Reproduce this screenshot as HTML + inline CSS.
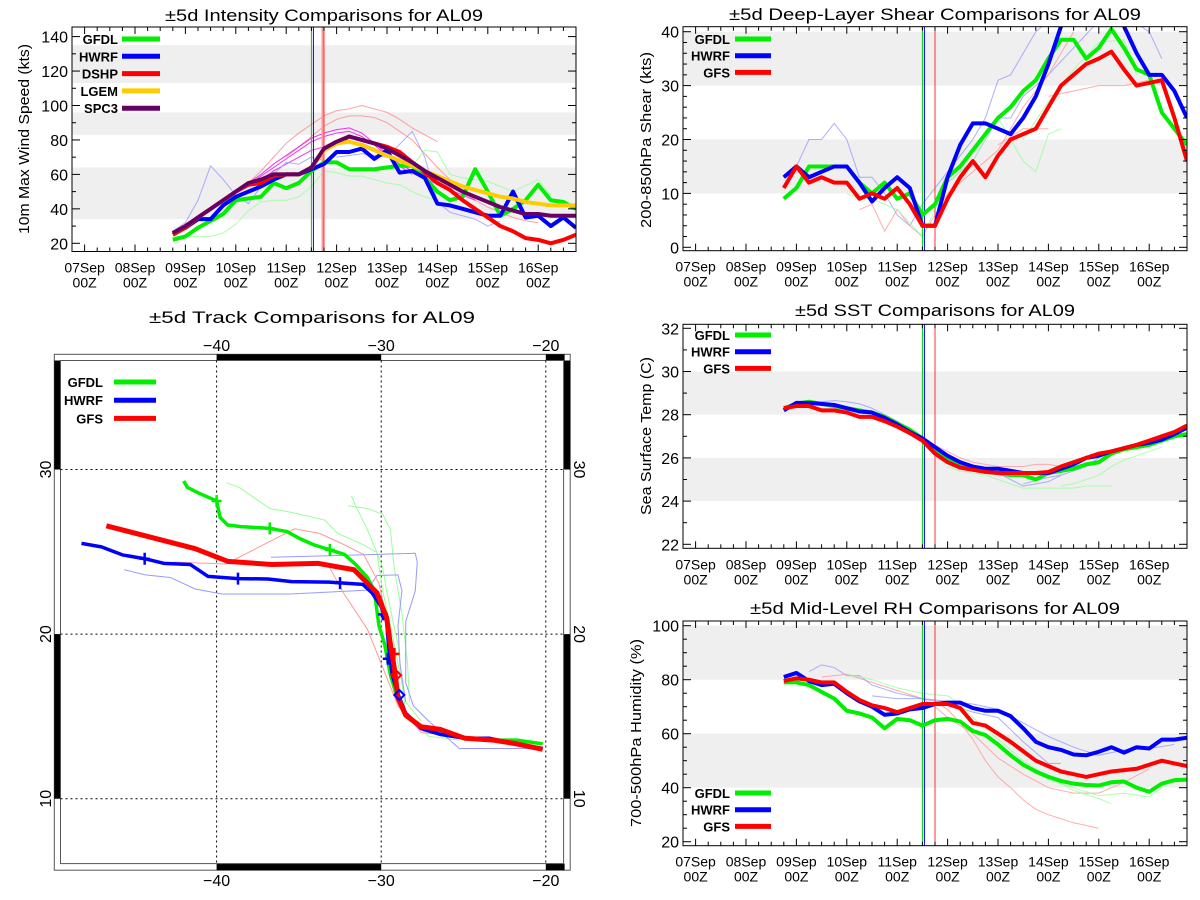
<!DOCTYPE html>
<html><head><meta charset="utf-8"><style>
html,body{margin:0;padding:0;background:#fff;}
svg{display:block;font-family:"Liberation Sans",sans-serif;}
</style></head><body>
<svg id="c" width="1200" height="900" xmlns="http://www.w3.org/2000/svg"></svg>
<script>
// ---------- DATA ----------
const dayLabels = ["07Sep","08Sep","09Sep","10Sep","11Sep","12Sep","13Sep","14Sep","15Sep","16Sep"];
const times = [1.75,2,2.25,2.5,2.75,3,3.25,3.5,3.75,4,4.25,4.5,4.75,5,5.25,5.5,5.75,6,6.25,6.5,6.75,7,7.25,7.5,7.75,8,8.25,8.5,8.75,9,9.25,9.5,9.75];
const vlineDays = [4.5, 4.54, 4.75];

// Intensity (kts)
const intGFDL = [22,24,29,33,37,45,46,47,55,52,55,62,67,67,63,63,63,64,65,65,58,50,45,47,63,50,36,40,45,54,45,44,40];
const intHWRF = [26,29,34,34,42,47,50,53,57,60,60,63,66,73,73,75,69,74,61,62,58,43,42,40,38,36,36,50,35,36,30,35,29];
const intDSHP = [25,29,35,40,45,50,54,55,59,60,60,64,74,78,82,80,78,76,73,67,61,55,51,45,40,35,30,27,23,22,20,22,25];
const intLGEM = [26,30,35,40,45,50,55,57,60,60,60,64,74,78,79,77,74,71,68,65,62,59,56,53,51,49,47,46,44,43,42,42,42];
const intSPC3 = [26,30,35,40,45,50,55,57,60,60,60,64,75,79,82,80,78,75,71,67,62,58,54,50,47,44,41,39,37,37,36,36,36];
const intThin = [
 {c:"#f88",d:[[3.25,55],[3.5,62],[3.75,70],[4,78],[4.25,84],[4.5,89],[4.75,94],[5,97],[5.25,98],[5.5,100],[5.75,98],[6,96],[6.25,92],[6.5,87],[6.75,83],[7,79]]},
 {c:"#f88",d:[[4,70],[4.25,76],[4.5,82],[4.75,88],[5,92],[5.25,94],[5.5,94],[5.75,93],[6,90],[6.25,85],[6.5,80],[6.75,72],[7,64],[7.25,57],[7.5,50],[7.75,45],[8,41],[8.25,38],[8.5,35],[8.75,33],[9,32]]},
 {c:"#e0e",d:[[3.25,55],[3.5,60],[3.75,66],[4,71],[4.25,76],[4.5,81],[4.75,84],[5,86],[5.25,87],[5.5,84],[5.75,78],[6,72],[6.25,66],[6.5,62],[6.75,58],[7,54],[7.25,51],[7.5,48],[7.75,45]]},
 {c:"#e0e",d:[[3.25,54],[3.5,59],[3.75,64],[4,69],[4.25,74],[4.5,79],[4.75,82],[5,84],[5.25,85],[5.5,82],[5.75,77],[6,71],[6.25,65],[6.5,60]]},
 {c:"#e0e",d:[[3.5,57],[3.75,62],[4,66],[4.25,70],[4.5,74],[4.75,76],[5,78],[5.25,79],[5.5,78],[5.75,75],[6,70]]},
 {c:"#99f",d:[[1.75,27],[2,32],[2.25,45],[2.5,65],[2.75,57],[3,48],[3.25,43],[3.5,53],[3.75,60],[4,67],[4.25,66],[4.5,70],[4.75,68]]},
 {c:"#99f",d:[[5,70],[5.5,72],[6,70],[6.5,85],[6.75,70],[7,44],[7.25,38],[7.5,36],[7.75,34],[8,30],[8.25,33]]},
 {c:"#9f9",d:[[1.75,24],[2,24],[2.25,24],[2.5,24],[2.75,26],[3,31],[3.25,39],[3.5,44],[3.75,45],[4,45],[4.25,47],[4.5,53],[4.75,62],[5,61],[5.25,59],[5.5,59],[5.75,57],[6,55],[6.25,54],[6.5,50],[6.75,47],[7,45]]},
 {c:"#9f9",d:[[6.5,65],[6.75,74],[7,73],[7.25,60],[7.5,58],[7.75,57],[8,56],[8.5,50],[9,57],[9.25,48]]}
];

// Shear (kts)
const shrGFDL = [9,11,15,15,15,15,12,10,12,9,10,6,8,13,15,18,21,24,26,29,31,35,38.5,38.5,35,37,40.5,37,33,32,25,22,19];
const shrHWRF = [13,15,13,14,15,15,12,8.5,11,13,11,4,4,13,19,23,23,22,21,24,28,34,41,45,46,46,44,41,36,32,32,29,24];
const shrGFS  = [11,15,12,13,12,12,9,10,9,11,8,4,4,9,13,16,13,17,20,21,22,26,30,32,34,35,36.3,33,30,30.5,31,24,16];
const shrThin = [
 {c:"#99f",d:[[2,15],[2.25,20],[2.5,20],[2.75,23],[3,20],[3.25,13],[3.5,13],[3.75,10],[4,6],[4.25,4],[4.5,8],[4.75,11],[5,14],[5.25,17],[5.5,20],[5.75,24],[6,31],[6.25,32],[6.5,36],[6.75,40],[7,42]]},
 {c:"#99f",d:[[5,12],[5.5,16],[6,24],[6.25,24],[6.5,28],[7,32],[8,42],[8.5,43],[9,40],[9.25,35]]},
 {c:"#f99",d:[[3.25,7],[3.5,8],[3.75,3],[4,7],[4.25,4],[4.5,2],[4.75,6],[5,10],[5.5,14],[6,18],[6.5,26],[7,32],[7.5,40]]},
 {c:"#f99",d:[[6,19],[6.5,22],[7,22]]},
 {c:"#f99",d:[[7,28],[7.5,29],[8,30],[8.5,30],[9,31]]},
 {c:"#9f9",d:[[3,10],[3.25,9],[3.5,9],[3.75,8],[4,7],[4.5,2],[5,12],[5.5,16],[6,24],[6.5,16],[6.75,14],[7,21],[7.25,22]]},
 {c:"#9f9",d:[[6.5,20],[7,27],[7.5,33],[8,38],[8.5,38.5],[8.75,32]]}
];

// SST (C)
const sstGFDL = [28.3,28.5,28.6,28.5,28.4,28.3,28.2,28.1,27.9,27.6,27.3,26.9,26.4,25.9,25.6,25.5,25.35,25.3,25.2,25.2,25.0,25.3,25.4,25.5,25.7,25.8,26.2,26.4,26.5,26.6,26.8,27.0,27.1];
const sstHWRF = [28.2,28.55,28.55,28.5,28.45,28.3,28.15,28.1,27.85,27.55,27.2,26.9,26.5,26.1,25.8,25.6,25.5,25.5,25.4,25.3,25.3,25.3,25.5,25.7,26.0,26.1,26.3,26.45,26.6,26.7,26.85,27.1,27.4];
const sstGFS  = [28.3,28.4,28.4,28.2,28.2,28.1,27.9,27.9,27.7,27.45,27.15,26.8,26.2,25.8,25.55,25.45,25.35,25.3,25.3,25.3,25.3,25.35,25.6,25.8,26.0,26.2,26.3,26.45,26.6,26.8,27.0,27.2,27.5];
const sstThin = [
 {c:"#99f",d:[[2.5,28.6],[2.75,28.65],[3,28.6],[3.25,28.5],[3.5,28.3],[3.75,28.0],[4,27.7],[4.25,27.3],[4.5,26.9],[4.75,26.5],[5,26.1],[5.25,25.8],[5.5,25.6],[5.75,25.4],[6,25.3],[6.25,25.0],[6.5,24.7],[6.75,24.8],[7,24.9],[7.25,25.2],[7.5,25.4],[7.75,25.6],[8,26.0]]},
 {c:"#99f",d:[[6.5,24.8],[7,25.1],[7.25,25.2]]},
 {c:"#9f9",d:[[5,25.6],[5.25,25.4],[5.5,25.3],[5.75,25.2],[6,25.0],[6.25,24.8],[6.5,24.6],[6.75,24.6],[7,24.6],[7.25,24.6],[7.5,24.6],[7.75,24.7],[8,24.7],[8.25,24.7]]},
 {c:"#9f9",d:[[7.25,24.7],[7.5,24.8],[7.75,25.0],[8,25.2],[8.25,25.6],[8.5,25.9],[8.75,26.1],[9,26.3],[9.25,26.5]]},
 {c:"#f99",d:[[4.75,26.6],[5,26.3],[5.25,26.0],[5.5,25.8],[5.75,25.7],[6,25.6],[6.25,25.6],[6.5,25.6],[6.75,25.7],[7,25.7],[7.25,25.6]]}
];

// Mid-level RH (%)
const rhGFDL = [79,79,78,75.5,73,68.5,67.5,66,62,65.5,65,63,65,65.5,64.5,61,59.5,56,52,48.5,46,44,42.5,41.5,41,40.8,42,42.3,40,38.5,41.5,42.8,43];
const rhHWRF = [81,82.5,79.5,78,78.5,75,72,70,67,67.5,69,69.5,71,71.5,71.5,69.5,68.5,68.5,66.5,62,57,55,54,52.3,52,53.3,55,53,55,54.5,57.8,57.8,58.5];
const rhGFS  = [79.5,80.5,80,79,79,75.5,72.5,70.5,69.5,68,69.5,71,71,71,69.5,64,63,60,57,53.5,50,48,46,45,44,45,46,46.5,47,48.5,50,49,48];
const rhThin = [
 {c:"#f99",d:[[4.75,72],[5,69],[5.25,64],[5.5,58],[5.75,50],[6,44],[6.25,40],[6.5,35.5],[6.75,32],[7,30],[7.25,28.5],[7.5,27],[7.75,26],[8,25]]},
 {c:"#f99",d:[[2.5,81],[3,82],[3.5,79],[4,76],[4.5,73],[4.75,70],[5,66],[5.5,60],[6,51],[6.5,45],[7,40],[7.5,38],[8,38],[8.5,42],[9,47]]},
 {c:"#99f",d:[[2.25,83],[2.5,85.5],[2.75,84.5],[3,81.5],[3.25,81.5],[3.5,78],[4,75],[4.5,73],[5,72],[5.5,71],[6,69],[6.5,64],[7,59],[7.5,55],[8,52],[8.5,54],[9,54.5],[9.5,56]]},
 {c:"#99f",d:[[3.5,74],[4,73],[4.5,73],[5,71],[5.5,68],[6,66],[6.5,57],[7,49],[7.25,49]]},
 {c:"#9f9",d:[[3,82],[3.5,80],[4,77],[4.5,75],[5,74],[5.25,71],[5.5,66],[6,58],[6.5,50],[7,44],[7.5,39],[8,36],[8.25,34]]},
 {c:"#9f9",d:[[6,55],[6.5,48],[7,43],[7.5,40],[8,37],[8.5,38],[9,36.5],[9.25,40]]}
];

// Track (lon, lat)
const trkGFDLlon = [-42.0,-41.77,-41.07,-40.0,-39.79,-39.33,-38.51,-36.77,-35.72,-35.02,-34.09,-33.12,-32.23,-31.53,-30.84,-30.42,-30.14,-29.79,-29.44,-29.09,-28.51,-27.58,-26.42,-25.02,-23.40,-21.77,-20.19];
const trkGFDLlat = [29.30,28.91,28.56,28.09,27.09,26.63,26.53,26.42,26.23,25.84,25.42,25.12,24.84,24.21,23.44,22.63,20.53,19.37,17.51,16.35,15.19,14.37,14.14,13.67,13.56,13.56,13.33];
const trkHWRFlon = [-48.21,-47.0,-45.72,-44.37,-43.21,-41.60,-40.53,-38.70,-36.88,-35.44,-33.16,-31.12,-30.56,-30.02,-29.67,-29.56,-29.33,-28.98,-28.51,-27.58,-26.42,-24.91,-23.40,-22.0,-20.19];
const trkHWRFlat = [25.51,25.30,24.81,24.58,24.30,24.23,23.51,23.37,23.35,23.19,23.16,23.02,22.51,21.70,20.77,19.37,17.51,16.35,15.19,14.26,13.91,13.67,13.67,13.37,13.05];
const trkGFSlon = [-46.70,-41.30,-39.33,-36.65,-33.86,-31.65,-30.26,-29.67,-29.44,-29.21,-29.09,-28.98,-28.51,-27.58,-26.42,-24.91,-23.16,-21.77,-20.19];
const trkGFSlat = [26.58,25.19,24.42,24.23,24.30,23.91,22.51,21.0,19.37,17.98,17.05,16.12,15.07,14.37,14.21,13.67,13.56,13.33,13.0];
const trkGFDLticks = [[-40.0,28.09],[-36.77,26.42],[-33.12,25.12]];
const trkHWRFticks = [[-44.37,24.58],[-38.70,23.37],[-32.5,23.1],[-29.9,21.2],[-29.6,18.5]];
const trkGFSticks = [[-29.2,18.8]];
const trkThin = [
 {c:"#9f9",d:[[-39.40,29.19],[-38.63,28.91],[-36.77,27.63],[-35.49,27.40],[-33.44,26.93],[-32.65,26.12],[-31.07,25.42],[-30.26,24.95],[-29.91,24.02],[-29.67,22.63],[-29.33,21.0],[-28.98,19.37],[-28.74,17.05],[-28.51,15.19],[-27.12,13.79],[-25.26,13.56]]},
 {c:"#9f9",d:[[-31.81,28.40],[-31.53,27.74],[-30.84,26.35],[-30.26,24.95],[-29.91,22.63],[-29.44,20.53],[-28.98,18.21],[-28.51,15.88],[-27.58,14.72]]},
 {c:"#9f9",d:[[-32.0,27.79],[-30.84,27.63],[-29.91,27.28],[-29.44,26.35],[-29.21,24.02],[-28.74,21.23],[-28.40,18.21],[-28.28,15.88]]},
 {c:"#99f",d:[[-36.70,24.67],[-32.93,24.77],[-27.93,24.91],[-27.81,24.37],[-27.93,22.63],[-28.51,20.77],[-28.51,17.05],[-28.05,15.65],[-27.12,14.72],[-25.26,13.05],[-20.60,13.05]]},
 {c:"#99f",d:[[-45.60,23.91],[-44.33,23.60],[-42.81,23.44],[-41.30,22.74],[-39.67,22.44],[-35.49,22.44],[-30.84,22.67],[-30.26,23.56],[-28.98,23.60],[-28.74,22.63],[-28.98,20.53],[-28.86,18.21],[-28.51,15.88]]},
 {c:"#f99",d:[[-42.58,24.37],[-39.44,24.26],[-35.26,26.40],[-33.74,26.12],[-32.23,25.42],[-31.07,24.84],[-30.14,23.09],[-29.67,21.0],[-29.21,17.05]]},
 {c:"#f99",d:[[-33.12,24.02],[-32.23,22.40],[-30.84,20.30],[-29.91,17.98],[-28.98,15.65],[-27.58,14.02],[-25.26,13.79]]}
];

// ---------- DRAWING ----------
const NS = 'http://www.w3.org/2000/svg';
const svg = document.getElementById('c');
function mk(tag, parent){ const e = document.createElementNS(NS, tag); (parent||svg).appendChild(e); return e; }
function attrs(e, o){ for (const k in o) e.setAttribute(k, o[k]); return e; }
function txt(parent, s, x, y, size, anchor){ const t = mk('text', parent); attrs(t,{x:x,y:y,'font-size':size,'text-anchor':anchor||'start',fill:'#000'}); t.textContent = s; return t; }
const dayW = 50.4;
const G = {GFDL:'#00ee00',HWRF:'#0000ff',DSHP:'#ff0000',GFS:'#ff0000',LGEM:'#ffcc00',SPC3:'#660066'};
let clipN = 0;

function timePanel(p){
  const g = mk('g');
  
  
  const xr = p.x0 + 10*dayW;
  const X = d => p.x0 + (d+0.25)*dayW;
  const Y = v => p.y0 - (v - p.v0)*p.ppu;
  p.bands.forEach(b => {
    const r = mk('rect', g);
    
    
    const y1 = Math.max(Y(b[1]), p.top), y2 = Math.min(Y(b[0]), p.bot);
    attrs(r,{x:p.x0,y:y1,width:xr-p.x0,height:y2-y1,fill:'#efefef'});
  });
  const cid = 'clip'+(clipN++);
  const cp = mk('clipPath', g); cp.setAttribute('id', cid);
  attrs(mk('rect', cp), {x:p.x0,y:p.top,width:xr-p.x0,height:p.bot-p.top});
  const data = mk('g', g); data.setAttribute('clip-path','url(#'+cid+')');
  
  
  p.thin.forEach(s => {
    const pl = mk('polyline', data);
    
    
    attrs(pl,{points:s.d.map(q => X(q[0])+','+Y(q[1])).join(' '),fill:'none',stroke:s.c,'stroke-width':1,'stroke-opacity':0.8});
  });
  if (p.pink){ attrs(mk('line',data),{x1:X(vlineDays[2])-1,x2:X(vlineDays[2])-1,y1:p.top,y2:p.bot,stroke:'#f99','stroke-width':3}); }
  const vc = ['#00cc00','#0000ff','#ff3333'];
  vlineDays.forEach((d,i) => {
    const l = mk('line', data);
    
    
    attrs(l,{x1:X(d),x2:X(d),y1:p.top,y2:p.bot,stroke:vc[i],'stroke-width':1});
  });
  p.series.forEach(s => {
    const pl = mk('polyline', data);
    
    
    attrs(pl,{points:s.v.map((v,i) => X(times[i])+','+Y(v)).join(' '),fill:'none',stroke:G[s.k],'stroke-width':p.lw,'stroke-linejoin':'round'});
  });
  const fr = mk('rect', g);
  
  
  attrs(fr,{x:p.x0,y:p.top,width:xr-p.x0,height:p.bot-p.top,fill:'none',stroke:'#000','stroke-width':1});
  for (let q=0; q<40; q++){
    const d = q*0.25 - 0.25; if (d <= -0.25) continue;
    const maj = (q%4===1); const L = maj?7:4; const x = X(d);
    attrs(mk('line',g),{x1:x,x2:x,y1:p.bot,y2:p.bot-L,stroke:'#000','stroke-width':1});
    attrs(mk('line',g),{x1:x,x2:x,y1:p.top,y2:p.top+L,stroke:'#000','stroke-width':1});
  }
  dayLabels.forEach((s,i) => {
    const t1 = txt(g, s, X(i), p.bot+21, 14, 'middle');
    
    
    const t2 = txt(g, '00Z', X(i), p.bot+36, 14, 'middle');
    
    
  });
  for (let v = p.ymin; v <= p.ymax + 1e-6; v += p.minor){
    const y = Y(v); if (y < p.top-0.5 || y > p.bot+0.5) continue;
    const maj = Math.abs((v - p.ymin) / p.major - Math.round((v - p.ymin)/p.major)) < 1e-6;
    const L = maj?8:4;
    attrs(mk('line',g),{x1:p.x0,x2:p.x0+L,y1:y,y2:y,stroke:'#000','stroke-width':1});
    attrs(mk('line',g),{x1:xr,x2:xr-L,y1:y,y2:y,stroke:'#000','stroke-width':1});
    if (maj){
      const t = txt(g, String(v), p.x0-4, y+6, 16, 'end');
      
      
    }
  }
  const tt = txt(g, p.title, p.x0+252, p.titleY, 17, 'middle');
  
  
  attrs(tt,{textLength:p.titleW,lengthAdjust:'spacingAndGlyphs'});
  const yl = txt(g, p.ylabel, 0, 0, 15, 'middle');
  
  
  attrs(yl,{transform:'translate('+p.ylX+','+p.ylY+') rotate(-90)',textLength:p.ylW,lengthAdjust:'spacingAndGlyphs'});
  p.legend.forEach((k,i) => {
    const y = p.legY + i*p.legDy;
    const lt = txt(g, k, p.legTx, y+5, 13, 'end');
    
    
    lt.setAttribute('font-weight', 'bold');
    const ll = mk('line', g);
    
    
    attrs(ll,{x1:p.legL1,x2:p.legL2,y1:y,y2:y,stroke:G[k],'stroke-width':5});
  });
}

timePanel({name:'intensity-panel',x0:72,top:27,bot:251.5,y0:243.3,v0:20,ppu:1.7225,ymin:20,ymax:140,major:20,minor:10,
  bands:[[34,64],[83,96],[113,135]],pink:true,lw:4,
  thin:intThin,
  series:[{k:'GFDL',v:intGFDL},{k:'HWRF',v:intHWRF},{k:'DSHP',v:intDSHP},{k:'LGEM',v:intLGEM},{k:'SPC3',v:intSPC3}],
  title:'±5d Intensity Comparisons for AL09',titleY:21,titleW:318,
  ylabel:'10m Max Wind Speed (kts)',ylX:29,ylY:139,ylW:190,
  legend:['GFDL','HWRF','DSHP','LGEM','SPC3'],legY:39,legDy:17.3,legTx:118,legL1:122,legL2:160});

timePanel({name:'shear-panel',x0:683,top:26.7,bot:250.7,y0:247.3,v0:0,ppu:5.39,ymin:0,ymax:40,major:10,minor:2,
  bands:[[10,20],[30,40]],pink:false,lw:4,
  thin:shrThin,
  series:[{k:'GFDL',v:shrGFDL},{k:'HWRF',v:shrHWRF},{k:'GFS',v:shrGFS}],
  title:'±5d Deep-Layer Shear Comparisons for AL09',titleY:20,titleW:412,
  ylabel:'200-850hPa Shear (kts)',ylX:651,ylY:140,ylW:176,
  legend:['GFDL','HWRF','GFS'],legY:39,legDy:16.7,legTx:730,legL1:735,legL2:771});

timePanel({name:'sst-panel',x0:683,top:324.3,bot:548.3,y0:544.3,v0:22,ppu:21.6,ymin:22,ymax:32,major:2,minor:1,
  bands:[[24,26],[28,30]],pink:false,lw:4,
  thin:sstThin,
  series:[{k:'GFDL',v:sstGFDL},{k:'HWRF',v:sstHWRF},{k:'GFS',v:sstGFS}],
  title:'±5d SST Comparisons for AL09',titleY:316,titleW:280,
  ylabel:'Sea Surface Temp (C)',ylX:651,ylY:436,ylW:158,
  legend:['GFDL','HWRF','GFS'],legY:335,legDy:16.7,legTx:730,legL1:735,legL2:771});

timePanel({name:'rh-panel',x0:683,top:621,bot:845.7,y0:841.7,v0:20,ppu:2.7,ymin:20,ymax:100,major:20,minor:5,
  bands:[[40,60],[80,100]],pink:false,lw:4,
  thin:rhThin,
  series:[{k:'GFDL',v:rhGFDL},{k:'HWRF',v:rhHWRF},{k:'GFS',v:rhGFS}],
  title:'±5d Mid-Level RH Comparisons for AL09',titleY:614,titleW:370,
  ylabel:'700-500hPa Humidity (%)',ylX:641,ylY:733,ylW:188,
  legend:['GFDL','HWRF','GFS'],legY:793,legDy:16.7,legTx:730,legL1:735,legL2:771});

// ---------- TRACK PANEL ----------
(function(){
  const g = mk('g');
  
  
  const LX = lon => 381.2 + (lon+30)*16.46;
  const LY = lat => 469.5 - (lat-30)*16.46;
  const oL=54.3,oR=570.2,oT=354.3,oB=870.2,iL=60.5,iR=563.6,iT=360.5,iB=863.6;
  const outer = mk('rect', g);
  
  
  attrs(outer,{x:oL,y:oT,width:oR-oL,height:oB-oT,fill:'#fff',stroke:'#555','stroke-width':1});
  const bars = [[LX(-40),oT,LX(-30)-LX(-40),iT-oT],[LX(-20),oT,iR-LX(-20)+1,iT-oT],
                [LX(-40),iB,LX(-30)-LX(-40),oB-iB],[LX(-20),iB,iR-LX(-20)+1,oB-iB],
                [oL,iT,iL-oL,LY(30)-iT],[oL,LY(20),iL-oL,LY(10)-LY(20)],
                [iR,iT,oR-iR,LY(30)-iT],[iR,LY(20),oR-iR,LY(10)-LY(20)]];
  bars.forEach(b => {
    const r = mk('rect', g);
    
    
    attrs(r,{x:b[0],y:b[1],width:b[2],height:b[3],fill:'#000'});
  });
  const inner = mk('rect', g);
  
  
  attrs(inner,{x:iL,y:iT,width:iR-iL,height:iB-iT,fill:'none',stroke:'#555','stroke-width':1});
  [-40,-30,-20].forEach(lon => {
    const l = mk('line', g);
    
    
    attrs(l,{x1:LX(lon),x2:LX(lon),y1:iT,y2:iB,stroke:'#000','stroke-width':1,'stroke-dasharray':'2,3'});
    const t1 = txt(g, '\u2212'+Math.abs(lon), LX(lon), 351, 16, 'middle');
    
    
    const t2 = txt(g, '\u2212'+Math.abs(lon), LX(lon), 886, 16, 'middle');
    
    
  });
  [30,20,10].forEach(lat => {
    const l = mk('line', g);
    
    
    attrs(l,{x1:iL,x2:iR,y1:LY(lat),y2:LY(lat),stroke:'#000','stroke-width':1,'stroke-dasharray':'2,3'});
    const t1 = txt(g, String(lat), 0, 0, 16, 'middle');
    
    
    attrs(t1,{transform:'translate(51,'+LY(lat)+') rotate(-90)'});
    const t2 = txt(g, String(lat), 0, 0, 16, 'middle');
    
    
    attrs(t2,{transform:'translate(574,'+LY(lat)+') rotate(90)'});
  });
  trkThin.forEach(s => {
    const pl = mk('polyline', g);
    
    
    attrs(pl,{points:s.d.map(q => LX(q[0])+','+LY(q[1])).join(' '),fill:'none',stroke:s.c,'stroke-width':1});
  });
  const tr = [['GFDL',trkGFDLlon,trkGFDLlat,3.5,trkGFDLticks],['HWRF',trkHWRFlon,trkHWRFlat,3.5,trkHWRFticks],['GFS',trkGFSlon,trkGFSlat,5,trkGFSticks]];
  tr.forEach(t => {
    const pl = mk('polyline', g);
    
    
    attrs(pl,{points:t[1].map((lo,i) => LX(lo)+','+LY(t[2][i])).join(' '),fill:'none',stroke:G[t[0]],'stroke-width':t[3],'stroke-linejoin':'round'});
    t[4].forEach(q => {
      const c = mk('path', g);
      
      
      const x = LX(q[0]), y = LY(q[1]);
      attrs(c,{d:'M'+(x-5)+' '+y+'H'+(x+5)+'M'+x+' '+(y-6)+'V'+(y+6),stroke:G[t[0]],'stroke-width':2.5});
    });
  });
  const dm = [[-28.9,16.3,'#0000ff'],[-29.1,17.5,'#ff0000']];
  dm.forEach(q => {
    const x = LX(q[0]), y = LY(q[1]);
    const p = mk('path', g);
    
    
    attrs(p,{d:'M'+x+' '+(y-5)+'L'+(x+5)+' '+y+'L'+x+' '+(y+5)+'L'+(x-5)+' '+y+'Z',fill:'none',stroke:q[2],'stroke-width':2});
  });
  const tt = txt(g, '±5d Track Comparisons for AL09', 312, 323, 17, 'middle');
  
  
  attrs(tt,{textLength:326,lengthAdjust:'spacingAndGlyphs'});
  ['GFDL','HWRF','GFS'].forEach((k,i) => {
    const y = 382 + i*18.2;
    const lt = txt(g, k, 103, y+5, 13, 'end');
    
    
    lt.setAttribute('font-weight', 'bold');
    const ll = mk('line', g);
    
    
    attrs(ll,{x1:114,x2:156,y1:y,y2:y,stroke:G[k],'stroke-width':5});
  });
})();
</script>
</body></html>
